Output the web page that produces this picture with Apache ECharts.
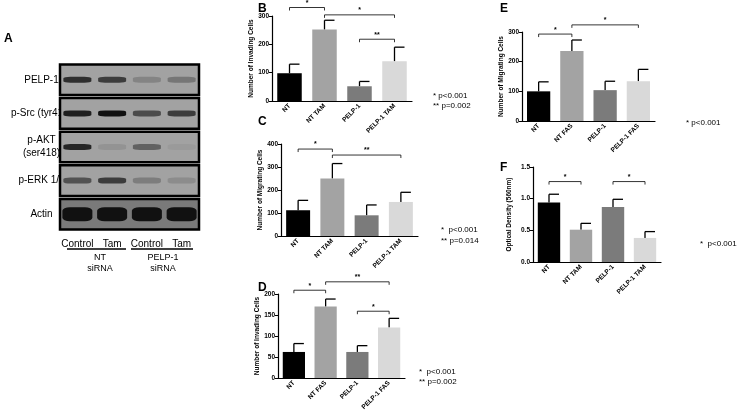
<!DOCTYPE html>
<html><head><meta charset="utf-8">
<script src="https://cdn.jsdelivr.net/npm/echarts@6/dist/echarts.min.js"></script>
<style>html,body{margin:0;padding:0;background:#fff}#c{width:745px;height:414px}</style>
</head><body><div id="c"></div>
<script>
// ---- data ----
const catsTam = ['NT','NT TAM','PELP-1','PELP-1 TAM'];
const catsFas = ['NT','NT FAS','PELP-1','PELP-1 FAS'];
const bVals = [98, 252, 52, 140];   const bErr = [32, 33, 17, 50];
const cVals = [112, 250, 90, 148];  const cErr = [43, 65, 45, 42];
const dVals = [62, 170, 62, 120];   const dErr = [20, 18, 15, 22];
const eVals = [100, 236, 104, 134]; const eErr = [32, 37, 30, 40];
const fVals = [0.94, 0.51, 0.87, 0.38]; const fErr = [0.13, 0.10, 0.12, 0.10];
const bBr = [[0,1,330,'*'],[1,3,304,'*'],[2,3,218,'**']];
const cBr = [[0,1,378,'*'],[1,3,352,'**']];
const dBr = [[0,1,209,'*'],[1,3,229,'**'],[2,3,159,'*']];
const eBr = [[0,1,293,'*'],[1,3,324,'*']];
const fBr = [[0,1,1.27,'*'],[2,3,1.27,'*']];
const blotRows = ['PELP-1','p-Src (tyr418)','p-AKT\n(ser418)','p-ERK 1/2','Actin'];
const blotLanes = ['Control','Tam','Control','Tam'];
// band intensity [lane,row,intensity]
const bands = [
 [0,0,0.8],[1,0,0.7],[2,0,0.2],[3,0,0.3],
 [0,1,0.9],[1,1,1.0],[2,1,0.6],[3,1,0.7],
 [0,2,0.85],[1,2,0.1],[2,2,0.45],[3,2,0.05],
 [0,3,0.55],[1,3,0.7],[2,3,0.25],[3,3,0.15],
 [0,4,1.0],[1,4,1.0],[2,4,1.0],[3,4,1.0]
];
const barColors = ['#000000','#a3a3a3','#7b7b7b','#d9d9d9'];
const FF = 'Liberation Sans, Arial, sans-serif';

const chart = echarts.init(document.getElementById('c'));
const grids=[], xAxes=[], yAxes=[], series=[];
function panel(g, cats, vals, errs, brs, yname, max, interval, dec){
  const i = grids.length;
  grids.push(Object.assign({containLabel:false}, g));
  xAxes.push({type:'category', gridIndex:i, data:cats,
    axisLine:{lineStyle:{color:'#000',width:1.2}}, axisTick:{show:false},
    axisLabel:{rotate:45, fontSize:6.5, fontWeight:'bold', color:'#000', fontFamily:FF, margin:4, interval:0}});
  yAxes.push({type:'value', gridIndex:i, min:0, max:max, interval:interval, name:yname,
    nameLocation:'middle', nameRotate:90, nameGap:dec?20:17,
    nameTextStyle:{fontSize:6.5, fontWeight:'bold', color:'#000', fontFamily:FF},
    splitLine:{show:false}, axisLine:{show:true, lineStyle:{color:'#000',width:1.2}},
    axisTick:{show:true, length:3, lineStyle:{color:'#000'}},
    axisLabel:{fontSize:6.5, fontWeight:'bold', color:'#000', fontFamily:FF, margin:3,
      formatter: v => dec ? v.toFixed(1) : v}});
  series.push({type:'bar', xAxisIndex:i, yAxisIndex:i, barWidth:'70%',
    data: vals.map((v,k)=>({value:v, itemStyle:{color:barColors[k]}})), silent:true});
  series.push({type:'custom', xAxisIndex:i, yAxisIndex:i, silent:true,
    data: vals.map((v,k)=>[k, v, errs[k]]),
    renderItem:(p, api)=>{
      const a = api.coord([api.value(0), api.value(1)]);
      const b = api.coord([api.value(0), api.value(1)+api.value(2)]);
      const st = {stroke:'#000', lineWidth:1.3};
      return {type:'group', children:[
        {type:'line', shape:{x1:a[0],y1:a[1],x2:b[0],y2:b[1]}, style:st},
        {type:'line', shape:{x1:b[0],y1:b[1],x2:b[0]+10,y2:b[1]}, style:st}]};
    }});
  series.push({type:'custom', xAxisIndex:i, yAxisIndex:i, silent:true, clip:false,
    data: brs.map(r=>[r[0], r[1], r[2]]),
    renderItem:(p, api)=>{
      const a = api.coord([api.value(0), api.value(2)]);
      const b = api.coord([api.value(1), api.value(2)]);
      const st = {stroke:'#000', lineWidth:0.8};
      return {type:'group', children:[
        {type:'line', shape:{x1:a[0],y1:a[1],x2:b[0],y2:b[1]}, style:st},
        {type:'line', shape:{x1:a[0],y1:a[1],x2:a[0],y2:a[1]+3}, style:st},
        {type:'line', shape:{x1:b[0],y1:b[1],x2:b[0],y2:b[1]+3}, style:st},
        {type:'text', x:(a[0]+b[0])/2, y:a[1]-1, style:{text:brs[p.dataIndex][3], fill:'#000',
          font:'bold 7px '+FF, align:'center', verticalAlign:'bottom'}}]};
    }});
}
panel({left:272,top:16,width:140,height:85}, catsTam, bVals, bErr, bBr, 'Number of Invading Cells', 300, 100);
panel({left:281,top:144,width:137,height:92}, catsTam, cVals, cErr, cBr, 'Number of Migrating Cells', 400, 100);
panel({left:278,top:294,width:127,height:84}, catsFas, dVals, dErr, dBr, 'Number of Invading Cells', 200, 50);
panel({left:522,top:32,width:133,height:89}, catsFas, eVals, eErr, eBr, 'Number of Migrating Cells', 300, 100);
panel({left:533,top:167,width:128,height:95}, catsTam, fVals, fErr, fBr, 'Optical Density (560nm)', 1.5, 0.5, true);

// blot grid
const bi = grids.length;
grids.push({left:60, top:63, width:139, height:168});
xAxes.push({type:'category', gridIndex:bi, data:blotLanes, position:'bottom',
  axisLine:{show:false}, axisTick:{show:false},
  axisLabel:{fontSize:10, color:'#000', fontFamily:FF, margin:8, interval:0}});
yAxes.push({type:'category', gridIndex:bi, data:blotRows, inverse:true,
  axisLine:{show:false}, axisTick:{show:false}, splitLine:{show:false},
  axisLabel:{fontSize:10, color:'#000', fontFamily:FF, margin:6, align:'center', lineHeight:13,
    padding:[0,25,0,0]}});
series.push({type:'custom', xAxisIndex:bi, yAxisIndex:bi, silent:true,
  data: blotRows.map((r,k)=>[0,k]),
  renderItem:(p, api)=>{
    const c = api.coord([0, api.value(1)]);
    const h = api.size([1,1])[1];
    return {type:'rect', shape:{x:60, y:c[1]-h/2+1.5, width:139, height:h-3},
      style:{fill: p.dataIndex===4 ? '#7a7a7a' : '#a2a2a2', stroke:'#000', lineWidth:2.5}};
  }});
series.push({type:'scatter', xAxisIndex:bi, yAxisIndex:bi, silent:true,
  symbol:'roundRect', symbolSize:(v)=> v[1]===4 ? [30,14] : [28,6],
  data: bands.map(b=>({value:[b[0],b[1]], itemStyle:{color:'#111', opacity:b[2]}}))});

chart.setOption({
  animation:false,
  grid:grids, xAxis:xAxes, yAxis:yAxes, series:series,
  graphic:[
    {type:'text', left:4, top:33, style:{text:'A', font:'bold 12px '+FF, fill:'#000'}},
    {type:'text', left:258, top:3, style:{text:'B', font:'bold 12px '+FF, fill:'#000'}},
    {type:'text', left:258, top:116, style:{text:'C', font:'bold 12px '+FF, fill:'#000'}},
    {type:'text', left:258, top:282, style:{text:'D', font:'bold 12px '+FF, fill:'#000'}},
    {type:'text', left:500, top:3, style:{text:'E', font:'bold 12px '+FF, fill:'#000'}},
    {type:'text', left:500, top:162, style:{text:'F', font:'bold 12px '+FF, fill:'#000'}},
    {type:'text', left:433, top:91, style:{text:'* p<0.001\n** p=0.002', font:'8px '+FF, fill:'#000', lineHeight:10}},
    {type:'text', left:441, top:224, style:{text:'*  p<0.001\n** p=0.014', font:'8px '+FF, fill:'#000', lineHeight:11}},
    {type:'text', left:419, top:367, style:{text:'*  p<0.001\n** p=0.002', font:'8px '+FF, fill:'#000', lineHeight:10}},
    {type:'text', left:686, top:119, style:{text:'* p<0.001', font:'8px '+FF, fill:'#000'}},
    {type:'text', left:700, top:240, style:{text:'*  p<0.001', font:'8px '+FF, fill:'#000'}},
    {type:'line', shape:{x1:67,y1:249,x2:126,y2:249}, style:{stroke:'#000',lineWidth:1.3}},
    {type:'line', shape:{x1:131,y1:249,x2:193,y2:249}, style:{stroke:'#000',lineWidth:1.3}},
    {type:'text', x:100, y:252, style:{text:'NT\nsiRNA', font:'9px '+FF, fill:'#000', align:'center', lineHeight:11}},
    {type:'text', x:163, y:252, style:{text:'PELP-1\nsiRNA', font:'9px '+FF, fill:'#000', align:'center', lineHeight:11}}
  ]
});
</script></body></html>
